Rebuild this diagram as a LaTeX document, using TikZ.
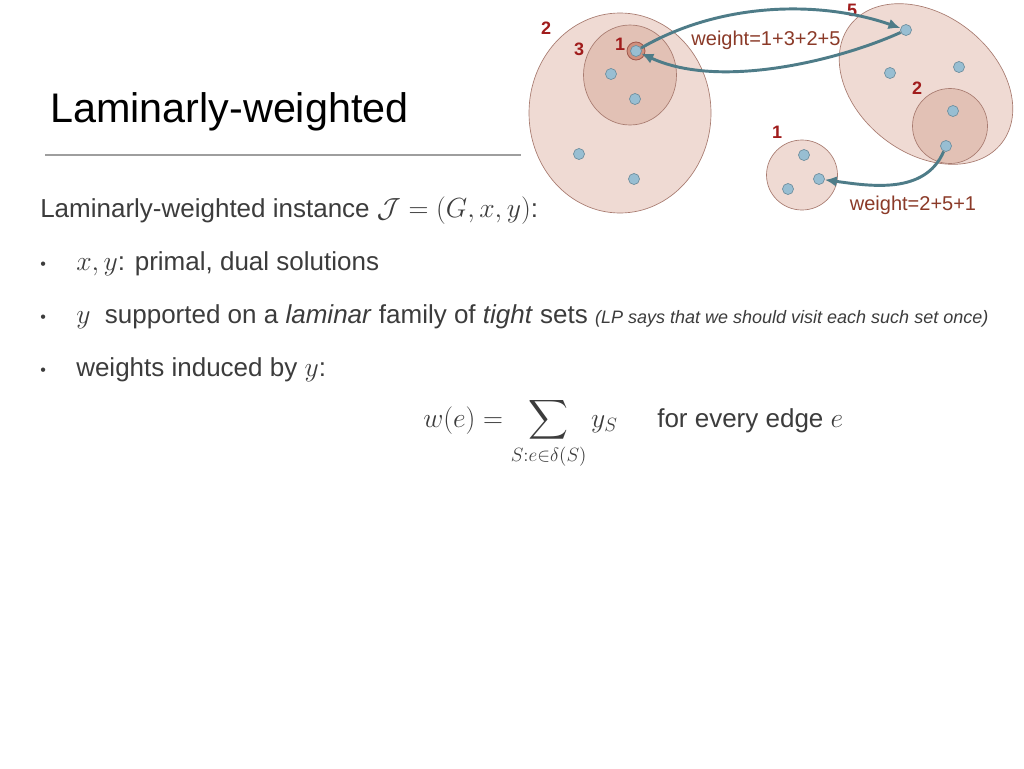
\documentclass[tikz,border=0pt]{standalone}
\usepackage{amsmath}
\usepackage{fontspec}
\setmainfont{Liberation Sans}
\usetikzlibrary{arrows.meta}
\definecolor{outerfill}{HTML}{EFDAD3}
\definecolor{setline}{HTML}{A87B70}
\definecolor{innerfill}{HTML}{E2C1B5}
\definecolor{tinyfill}{HTML}{CF907E}
\definecolor{tinyline}{HTML}{A0584C}
\definecolor{vfill}{HTML}{98BED2}
\definecolor{vline}{HTML}{6F8F9E}
\definecolor{arrowcol}{HTML}{4E7C88}
\definecolor{numred}{HTML}{A01C1C}
\definecolor{wtext}{HTML}{8B3A28}
\definecolor{bodytext}{HTML}{3C3C3C}
\tikzset{
  outerset/.style={fill=outerfill, draw=setline, line width=0.5pt},
  innerset/.style={fill=innerfill, draw=setline, line width=0.5pt},
  tinyset/.style={fill=tinyfill, draw=tinyline, line width=0.6pt},
  vert/.style={circle, fill=vfill, draw=vline, line width=0.5pt, inner sep=0pt, minimum size=8.3pt},
  conn/.style={draw=arrowcol, line width=2.2pt, -{Latex[length=9pt,width=8pt]}},
  setnum/.style={text=numred, font=\fontsize{13.5}{16}\selectfont\bfseries},
  wlabel/.style={text=wtext, font=\fontsize{15}{18}\selectfont},
  body/.style={anchor=base west, text=bodytext, font=\fontsize{19.5}{23}\selectfont, inner sep=0pt},
  bullet/.style={anchor=base west, text=bodytext, font=\fontsize{12}{14}\selectfont, inner sep=0pt}
}
\begin{document}
\begin{tikzpicture}[x=0.75pt, y=-0.75pt]
\useasboundingbox (0,0) rectangle (1024,768);
\fill[white] (0,0) rectangle (1024,768);

% title and rule
\node[anchor=base west, inner sep=0pt, font=\fontsize{31}{36}\selectfont] (title) at (50,122) {Laminarly-weighted};
\draw[color=black!38, line width=1.5pt] (45,155) coordinate (ruleL) -- (521,155) coordinate (ruleR);

% left sets
\fill[outerset] (620,113) ellipse [x radius=91, y radius=100];
\fill[innerset] (630,75) ellipse [x radius=46.5, y radius=50];
\fill[tinyset] (636,51) circle [radius=9];
% right sets
\fill[outerset, rotate around={-38:(926,84)}] (926,84) ellipse [x radius=96, y radius=69];
\fill[innerset] (950,126) circle [radius=37.5];
\fill[outerset] (802,175) ellipse [x radius=35.5, y radius=35];

% set numbers
\node[setnum] (n2a) at (546,28) {2};
\node[setnum] (n3) at (579,49) {3};
\node[setnum] (n1a) at (620,44) {1};
\node[setnum] (n5) at (852,10) {5};
\node[setnum] (n2b) at (917,88) {2};
\node[setnum] (n1b) at (777,132) {1};

% vertices
\node[vert] (a1) at (636,51) {};
\node[vert] (a2) at (611,74) {};
\node[vert] (a3) at (635,99) {};
\node[vert] (a4) at (579,154) {};
\node[vert] (a5) at (634,179) {};
\node[vert] (b1) at (906,30) {};
\node[vert] (b2) at (890,73) {};
\node[vert] (b3) at (959,67) {};
\node[vert] (b4) at (953,111) {};
\node[vert] (b5) at (946,146) {};
\node[vert] (c1) at (804,155) {};
\node[vert] (c2) at (819,179) {};
\node[vert] (c3) at (788,189) {};

% connectors
\draw[conn] (a1) .. controls (720,2) and (820,0) .. (b1);
\draw[conn] (b1) .. controls (840,60) and (720,90) .. (a1);
\draw[conn] (b5) .. controls (925,195) and (870,186) .. (c2);

\node[wlabel] (w1) at (766,40) {weight=1+3+2+5};
\node[wlabel] (w2) at (913,205) {weight=2+5+1};

% body text
\node[body] (l1) at (40,217) {Laminarly-weighted instance $\mathcal{J}=(G,x,y)$:};
\node[bullet] (b1dot) at (40,269) {\textbullet};
\node[body] (l2) at (76,270) {$x,y$: primal, dual solutions};
\node[bullet] (b2dot) at (40,322) {\textbullet};
\node[body] (l3) at (76,323) {$y$\ \ supported on a \textit{laminar} family of \textit{tight} sets {\fontsize{13.5}{15}\selectfont\itshape(LP says that we should visit each such set once)}};
\node[bullet] (b3dot) at (40,375) {\textbullet};
\node[body] (l4) at (76,376) {weights induced by $y$:};
\node[body] (f1) at (423,427) {$\displaystyle w(e)=\sum_{S:e\in\delta(S)} y_S$};
\node[body] (f2) at (657,427) {for every edge $e$};
\end{tikzpicture}
\end{document}
